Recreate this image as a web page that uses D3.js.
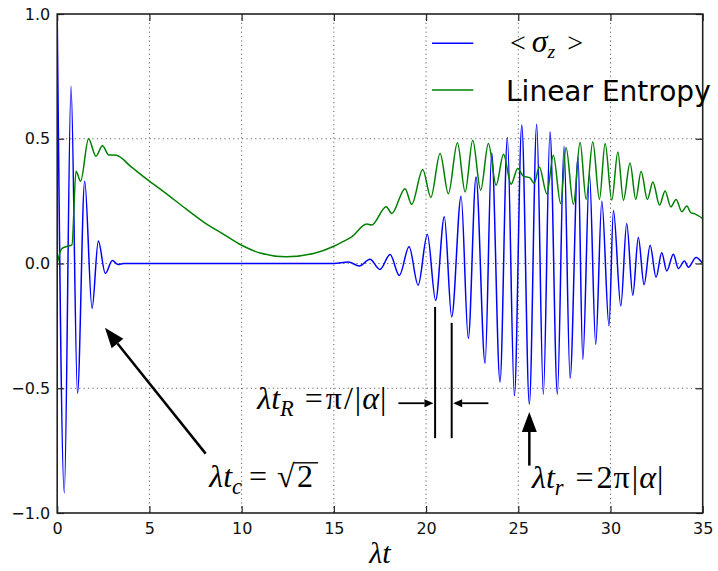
<!DOCTYPE html>
<html>
<head>
<meta charset="utf-8">
<script src="https://cdn.jsdelivr.net/npm/d3@7"></script>
<style>
  html, body { margin: 0; padding: 0; background: #fff; }
  svg { display: block; }
  .tick-label { font-family: "DejaVu Sans", sans-serif; font-size: 16px; fill: #111; }
  .math { font-family: "Liberation Serif", "DejaVu Serif", serif; fill: #000; }
</style>
</head>
<body>
<svg id="chart" width="718" height="571"></svg>
<script>
// Time axis (λt) and the atomic inversion <σz>: extrema of the collapse / revival pattern
const sigmaT = [0, 0.385, 0.75, 1.1, 1.49, 1.89, 2.23, 2.61, 2.99, 3.3, 3.6, 14.5, 15.0,
  15.79, 16.38, 16.96, 17.5, 18.05, 18.55, 19.08, 19.57, 20.07, 20.52, 20.99, 21.39,
  21.9, 22.29, 22.71, 23.2, 23.56, 24.01, 24.41, 24.79, 25.19, 25.6, 26.0, 26.36,
  26.72, 27.12, 27.48, 27.81, 28.24, 28.5, 28.86, 29.2, 29.53, 29.92, 30.16, 30.56,
  30.88, 31.21, 31.51, 31.82, 32.15, 32.47, 32.78, 33.05, 33.41, 33.68, 34.01, 34.22,
  34.64, 35.0];
const sigmaZ = [1.0, -0.92, 0.71, -0.52, 0.33, -0.18, 0.09, -0.04, 0.012, -0.004, 0, 0, 0,
  0.006, -0.01, 0.017, -0.024, 0.036, -0.048, 0.067, -0.087, 0.116, -0.148, 0.187, -0.214,
  0.27, -0.30, 0.347, -0.40, 0.443, -0.475, 0.505, -0.53, 0.555, -0.564, 0.558, -0.524,
  0.528, -0.524, 0.47, -0.46, 0.427, -0.385, 0.36, -0.324, 0.25, -0.25, 0.212, -0.17,
  0.16, -0.127, 0.104, -0.085, 0.073, -0.055, 0.043, -0.03, 0.037, -0.02, 0.01, -0.015,
  0.024, 0.0];

// Linear entropy of the atom
const entropyT = [0, 0.25, 0.5, 0.8, 1.02, 1.27, 1.7, 2.1, 2.45, 2.8, 3.2, 4.0, 5.0, 6.0,
  7.0, 8.0, 9.0, 10.0, 11.0, 12.4, 13.9, 15.0, 15.5, 15.97, 16.78, 17.05, 17.84, 18.14,
  18.86, 19.22, 19.82, 20.26, 20.76, 21.21, 21.7, 22.12, 22.53, 22.96, 23.38, 23.8, 24.2,
  24.61, 24.97, 25.28, 25.64, 25.86, 26.14, 26.55, 26.9, 27.3, 27.59, 27.99, 28.35, 28.68,
  29.04, 29.4, 29.71, 30.07, 30.4, 30.7, 31.06, 31.37, 31.66, 32.0, 32.3, 32.66, 32.96,
  33.27, 33.56, 33.87, 34.14, 34.36, 34.54, 35.0];
const entropyS = [0, 0.06, 0.068, 0.075, 0.37, 0.33, 0.50, 0.43, 0.472, 0.435, 0.434, 0.388,
  0.33, 0.275, 0.218, 0.163, 0.118, 0.073, 0.042, 0.027, 0.04, 0.069, 0.088, 0.107, 0.158,
  0.154, 0.227, 0.20, 0.30, 0.237, 0.377, 0.265, 0.441, 0.28, 0.484, 0.287, 0.494, 0.294,
  0.481, 0.314, 0.438, 0.318, 0.381, 0.35, 0.343, 0.321, 0.387, 0.28, 0.434, 0.24, 0.465,
  0.237, 0.486, 0.257, 0.488, 0.257, 0.481, 0.254, 0.447, 0.254, 0.403, 0.257, 0.37, 0.257,
  0.327, 0.234, 0.291, 0.227, 0.257, 0.207, 0.23, 0.203, 0.20, 0.18];

const xTicks = [0, 5, 10, 15, 20, 25, 30, 35];
const yTicks = [-1.0, -0.5, 0.0, 0.5, 1.0];
const seriesNames = ["σ", "Linear Entropy"];

const W = 718, H = 571;
const plot = { left: 57.2, right: 702.7, top: 14, bottom: 513 };

const svg = d3.select("#chart");
const x = d3.scaleLinear().domain([0, 35]).range([plot.left, plot.right]);
const y = d3.scaleLinear().domain([-1, 1]).range([plot.bottom, plot.top]);

// Dotted grid
const grid = svg.append("g");
grid.selectAll(".gx").data(xTicks.slice(1, -1)).join("line")
  .attr("x1", d => x(d)).attr("x2", d => x(d))
  .attr("y1", plot.top).attr("y2", plot.bottom)
  .attr("stroke", "#666").attr("stroke-width", 1).attr("stroke-dasharray", "1.2,3.2");
grid.selectAll(".gy").data(yTicks.slice(1, -1)).join("line")
  .attr("y1", d => y(d)).attr("y2", d => y(d))
  .attr("x1", plot.left).attr("x2", plot.right)
  .attr("stroke", "#666").attr("stroke-width", 1).attr("stroke-dasharray", "1.2,3.2");

// Curves
svg.append("clipPath").attr("id", "plotclip").append("rect")
  .attr("x", plot.left).attr("y", plot.top)
  .attr("width", plot.right - plot.left).attr("height", plot.bottom - plot.top);

const line = d3.line().x(d => x(d[0])).y(d => y(d[1])).curve(d3.curveMonotoneX);
const curves = svg.append("g").attr("clip-path", "url(#plotclip)");
curves.append("path")
  .attr("d", line(d3.zip(sigmaT, sigmaZ)))
  .attr("fill", "none").attr("stroke", "#0000ff").attr("stroke-width", 1.5);
curves.append("path")
  .attr("d", line(d3.zip(entropyT, entropyS)))
  .attr("fill", "none").attr("stroke", "#008000").attr("stroke-width", 1.5);

// Axes: ticks pointing inward on all four sides
const tickLen = 7;
const axB = svg.append("g").attr("transform", `translate(0,${plot.bottom})`)
  .call(d3.axisBottom(x).tickValues(xTicks).tickSize(-tickLen).tickPadding(10).tickFormat(d3.format("d")));
const axT = svg.append("g").attr("transform", `translate(0,${plot.top})`)
  .call(d3.axisTop(x).tickValues(xTicks).tickSize(-tickLen).tickFormat(""));
const axL = svg.append("g").attr("transform", `translate(${plot.left},0)`)
  .call(d3.axisLeft(y).tickValues(yTicks).tickSize(-tickLen).tickPadding(7)
    .tickFormat(d => d3.format(".1f")(d).replace("-", "\u2212")));
const axR = svg.append("g").attr("transform", `translate(${plot.right},0)`)
  .call(d3.axisRight(y).tickValues(yTicks).tickSize(-tickLen).tickFormat(""));
[axB, axT, axL, axR].forEach(a => {
  a.select(".domain").remove();
  a.selectAll(".tick line").attr("stroke", "#222").attr("stroke-width", 1.2);
  a.selectAll("text").attr("class", "tick-label").attr("font-family", null).attr("font-size", null);
});

// Frame
svg.append("rect")
  .attr("x", plot.left).attr("y", plot.top)
  .attr("width", plot.right - plot.left).attr("height", plot.bottom - plot.top)
  .attr("fill", "none").attr("stroke", "#222").attr("stroke-width", 1.6);

// Helper for math-style text built from tspans
function mathText(g, px, py, parts, size) {
  const t = g.append("text").attr("class", "math").attr("x", px).attr("y", py)
    .attr("font-size", size);
  parts.forEach(p => {
    const s = t.append("tspan").text(p.t);
    if (p.italic) s.attr("font-style", "italic");
    if (p.sub) s.attr("font-size", size * 0.7);
    if (p.size) s.attr("font-size", p.size);
    if (p.dy) s.attr("dy", p.dy);
    if (p.dx) s.attr("dx", p.dx);
  });
  return t;
}

// Arrow: shaft plus filled triangular head, tip at (x2, y2)
function arrow(g, x1, y1, x2, y2, headLen, headW, shaftW) {
  const ang = Math.atan2(y2 - y1, x2 - x1);
  const bx = x2 - headLen * Math.cos(ang), by = y2 - headLen * Math.sin(ang);
  g.append("line").attr("x1", x1).attr("y1", y1).attr("x2", bx).attr("y2", by)
    .attr("stroke", "#000").attr("stroke-width", shaftW);
  const nx = -Math.sin(ang) * headW / 2, ny = Math.cos(ang) * headW / 2;
  g.append("path")
    .attr("d", `M${x2},${y2}L${bx + nx},${by + ny}L${bx - nx},${by - ny}Z`)
    .attr("fill", "#000");
}

const ann = svg.append("g");
const mathSize = 32;

// Collapse time
arrow(ann, x(8.05), y(-0.762), x(2.59), y(-0.258), 20, 15, 2.5);
const tcY = y(-0.895);
const tc = mathText(ann, x(8.25), tcY, [
  { t: "λt", italic: true },
  { t: "c", italic: true, sub: true, dy: 7 },
  { t: "=", dy: -7, dx: 7 },
  { t: "√", dx: 10 }
], mathSize);
const tcBox = tc.node().getBBox();
const tcTwo = ann.append("text").attr("class", "math").attr("font-size", mathSize)
  .attr("x", tcBox.x + tcBox.width + 2).attr("y", tcY).text("2");
const twoBox = tcTwo.node().getBBox();
ann.append("line").attr("x1", twoBox.x - 3).attr("x2", twoBox.x + twoBox.width + 5)
  .attr("y1", twoBox.y + 5).attr("y2", twoBox.y + 5)
  .attr("stroke", "#000").attr("stroke-width", 1.4);

// Revival period markers
ann.append("line").attr("x1", x(20.49)).attr("x2", x(20.49))
  .attr("y1", y(-0.174)).attr("y2", y(-0.70)).attr("stroke", "#000").attr("stroke-width", 2);
ann.append("line").attr("x1", x(21.39)).attr("x2", x(21.39))
  .attr("y1", y(-0.238)).attr("y2", y(-0.70)).attr("stroke", "#000").attr("stroke-width", 2);
arrow(ann, x(18.5), y(-0.56), x(20.4), y(-0.56), 9, 8, 1.8);
arrow(ann, x(23.38), y(-0.56), x(21.47), y(-0.56), 9, 8, 1.8);
mathText(ann, x(10.85), y(-0.585), [
  { t: "λt", italic: true },
  { t: "R", italic: true, sub: true, dy: 7 },
  { t: "=", dy: -7, dx: 11 },
  { t: "π", dx: 3 },
  { t: "/", dx: 2 },
  { t: "|", dx: 2 },
  { t: "α", italic: true, dx: 1 },
  { t: "|", dx: 1 }
], mathSize);

// Revival time
arrow(ann, x(25.6), y(-0.81), x(25.6), y(-0.595), 20, 15, 2.5);
mathText(ann, x(25.75), y(-0.9), [
  { t: "λt", italic: true },
  { t: "r", italic: true, sub: true, dy: 7 },
  { t: "=", dy: -7, dx: 12 },
  { t: "2", dx: 3 },
  { t: "π", dx: 1 },
  { t: "|", dx: 2 },
  { t: "α", italic: true, dx: 1 },
  { t: "|", dx: 1 }
], mathSize);

// x-axis label
mathText(svg, x(17.5), 563, [{ t: "λt", italic: true }], 30).attr("text-anchor", "middle");

// Legend (no frame)
const leg = svg.append("g");
leg.append("line").attr("x1", 432).attr("x2", 473.3).attr("y1", 43.3).attr("y2", 43.3)
  .attr("stroke", "#0000ff").attr("stroke-width", 1.5);
leg.append("line").attr("x1", 432).attr("x2", 473.3).attr("y1", 90).attr("y2", 90)
  .attr("stroke", "#008000").attr("stroke-width", 1.5);
mathText(leg, 510, 52, [
  { t: "<" },
  { t: seriesNames[0], italic: true, dx: 6, size: 32 },
  { t: "z", italic: true, sub: true, dy: 6 },
  { t: ">", dy: -6, dx: 12 }
], 28);
leg.append("text").attr("x", 506).attr("y", 101)
  .attr("font-family", "DejaVu Sans, sans-serif").attr("font-size", 28).attr("fill", "#000")
  .text(seriesNames[1]);
</script>
</body>
</html>
